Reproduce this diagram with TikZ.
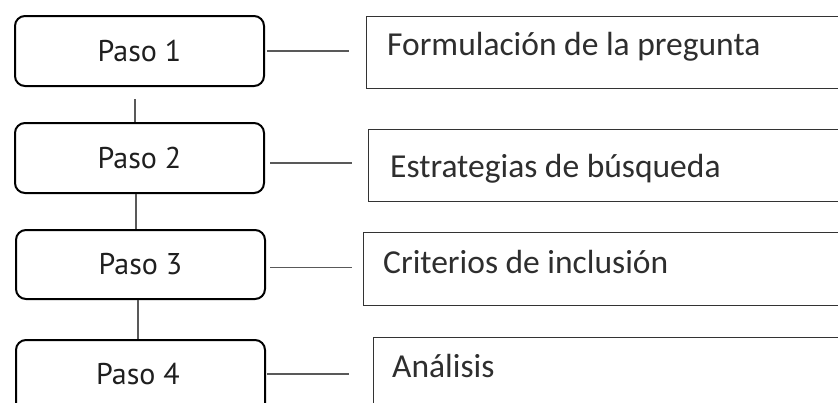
\documentclass[tikz,border=0pt]{standalone}
\usepackage{fontspec}
\setmainfont{Carlito}
\newfontfamily\pasofont{PT Sans}
\begin{document}
\begin{tikzpicture}[x=1pt,y=1pt,
  pasobox/.style={draw=black, line width=2pt, rounded corners=10pt, anchor=north west,
    minimum width=249pt, minimum height=70pt, inner sep=0pt, font=\pasofont\fontsize{30}{34}\selectfont, text=black!88},
  topicbox/.style={draw=black!80, line width=1.3pt, anchor=north west, minimum width=560pt, minimum height=72pt, inner sep=0pt},
  topictext/.style={anchor=base west, inner sep=0pt, font=\fontsize{33.5}{36}\selectfont, text=black!82},
  conn/.style={draw=black!65, line width=1.3pt}]
\clip (0,0) rectangle (838,-402);
\fill[white] (0,0) rectangle (838,-402);
% step boxes
\node[pasobox] (p1) at (14,-15) {Paso 1};
\node[pasobox] (p2) at (14,-122) {Paso 2};
\node[pasobox, minimum height=69pt] (p3) at (15,-229) {Paso 3};
\node[pasobox, minimum height=80pt] (p4) at (15,-339) {};
\node[font=\pasofont\fontsize{30}{34}\selectfont, text=black!88] (p4t) at (138,-374) {Paso 4};
% topic boxes
\node[topicbox] (r1) at (366,-16) {};
\node[topicbox] (r2) at (368,-129) {};
\node[topicbox, minimum height=73pt] (r3) at (363,-232) {};
\node[topicbox, minimum height=90pt] (r4) at (373,-337) {};
\node[topictext] (t1) at (387,-55) {Formulación de la pregunta};
\node[topictext] (t2) at (390,-177) {Estrategias de búsqueda};
\node[topictext] (t3) at (383,-273) {Criterios de inclusión};
\node[topictext] (t4) at (392,-377) {Análisis};
% horizontal connectors
\draw[conn, shorten <=2pt, shorten >=17pt] (p1.east) -- (p1.east -| r1.west);
\draw[conn, shorten <=5pt, shorten >=16pt] ([yshift=-5pt]p2.east) -- ([yshift=-5pt]p2.east -| r2.west);
\draw[conn, shorten <=4pt, shorten >=11pt] ([yshift=-3pt]p3.east) -- ([yshift=-3pt]p3.east -| r3.west);
\draw[conn, shorten <=1pt, shorten >=24pt] (p4.east |- p4t) -- (r4.west |- p4t);
% vertical connectors
\draw[conn, shorten <=12pt] ([xshift=-4.5pt]p1.south) -- ([xshift=-4.5pt]p2.north);
\draw[conn] ([xshift=-3.5pt]p2.south) -- ([xshift=-4.5pt]p3.north);
\draw[conn] ([xshift=-2.5pt]p3.south) -- ([xshift=-2.5pt]p4.north);
\end{tikzpicture}
\end{document}
